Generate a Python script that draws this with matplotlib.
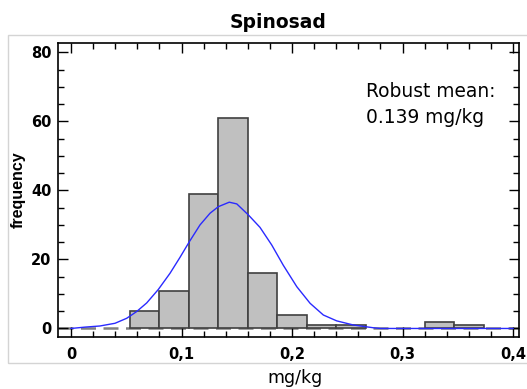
import matplotlib
matplotlib.use('Agg')

import matplotlib.pyplot as plt
from matplotlib.patches import Rectangle
from matplotlib.ticker import MultipleLocator, FixedLocator
import numpy as np

# histogram: 15 bins of equal width between 0 and 0.4 mg/kg
bin_start = 0.0
bin_stop = 0.4
counts = [0, 0, 5, 11, 39, 61, 16, 4, 1, 1, 0, 0, 2, 1, 0]

# fitted density curve (scaled to counts)
curve_x = [0.0, 0.013, 0.0262, 0.0398, 0.0504, 0.0594, 0.0685, 0.079, 0.0896,
           0.0986, 0.107, 0.1167, 0.1258, 0.1333, 0.1432, 0.150, 0.1605, 0.171,
           0.1816, 0.1921, 0.2043, 0.2163, 0.2283, 0.2404, 0.2555, 0.2736,
           0.28, 0.4]
curve_y = [0.0, 0.4, 0.72, 1.5, 2.95, 4.9, 7.4, 11.3, 16.0,
           20.6, 25.1, 30.0, 33.4, 35.3, 36.6, 36.1, 32.9, 29.3,
           24.2, 18.3, 12.1, 7.3, 3.9, 2.2, 1.0, 0.2,
           0.0, 0.0]

x_ticks = [0, 0.1, 0.2, 0.3, 0.4]
x_tick_labels = ['0', '0,1', '0,2', '0,3', '0,4']
y_ticks = [0, 20, 40, 60, 80]
y_tick_labels = ['0', '20', '40', '60', '80']

title = 'Spinosad'
x_label = 'mg/kg'
y_label = 'frequency'
note_lines = ['Robust mean:', '0.139 mg/kg']

fig = plt.figure(figsize=(5.27, 3.89), dpi=100)
ax = fig.add_axes([0.111, 0.133, 0.874, 0.757])

# light grey frame around the plot region
fig.add_artist(Rectangle((0.0152, 0.0668), 1.2, 0.843, transform=fig.transFigure,
                         fill=False, edgecolor='#d4d4d4', linewidth=1, zorder=0))

n_bins = len(counts)
edges = np.linspace(bin_start, bin_stop, n_bins + 1)
width = edges[1] - edges[0]
heights = np.array(counts, dtype=float)
keep = heights > 0
ax.bar(edges[:-1][keep], heights[keep], width=width, align='edge',
       color='#c0c0c0', edgecolor='#404040', linewidth=1.2, zorder=2)

ax.axhline(0, color='#808080', linewidth=1.8, linestyle=(0, (6, 3)), zorder=1)
ax.plot(curve_x, curve_y, color='#2a2aff', linewidth=1.0, zorder=3,
        solid_joinstyle='round')

ax.set_xlim(-0.0113, 0.4054)
ax.set_ylim(-2.55, 82.8)

ax.xaxis.set_major_locator(FixedLocator(x_ticks))
ax.set_xticklabels(x_tick_labels)
ax.yaxis.set_major_locator(FixedLocator(y_ticks))
ax.set_yticklabels(y_tick_labels)
ax.xaxis.set_minor_locator(MultipleLocator(0.02))
ax.yaxis.set_minor_locator(MultipleLocator(5))

ax.tick_params(which='both', direction='in', top=True, right=True, width=1)
ax.tick_params(which='major', length=7)
ax.tick_params(which='minor', length=4)
ax.tick_params(axis='x', pad=7)
ax.tick_params(axis='y', pad=5)
for lab in ax.get_xticklabels() + ax.get_yticklabels():
    lab.set_fontweight('bold')
    lab.set_fontsize(10.5)

for sp in ax.spines.values():
    sp.set_linewidth(1.2)

fig.text(278 / 527, 1 - 28 / 389, title, ha='center', va='baseline',
         fontsize=13.5, fontweight='bold')
fig.text(295 / 527, 1 - 383 / 389, x_label, ha='center', va='baseline',
         fontsize=12.5)
fig.text(18 / 527, 0.5 * (0.133 + 0.890), y_label, rotation=90, ha='center',
         va='center', fontsize=11.5, fontweight='bold', family='Liberation Sans')

ax.text(0.668, 0.817, note_lines[0], transform=ax.transAxes, fontsize=13.4,
        ha='left', va='baseline')
ax.text(0.668, 0.727, note_lines[1], transform=ax.transAxes, fontsize=13.4,
        ha='left', va='baseline')

fig.savefig('out.png', dpi=100)
plt.close(fig)
